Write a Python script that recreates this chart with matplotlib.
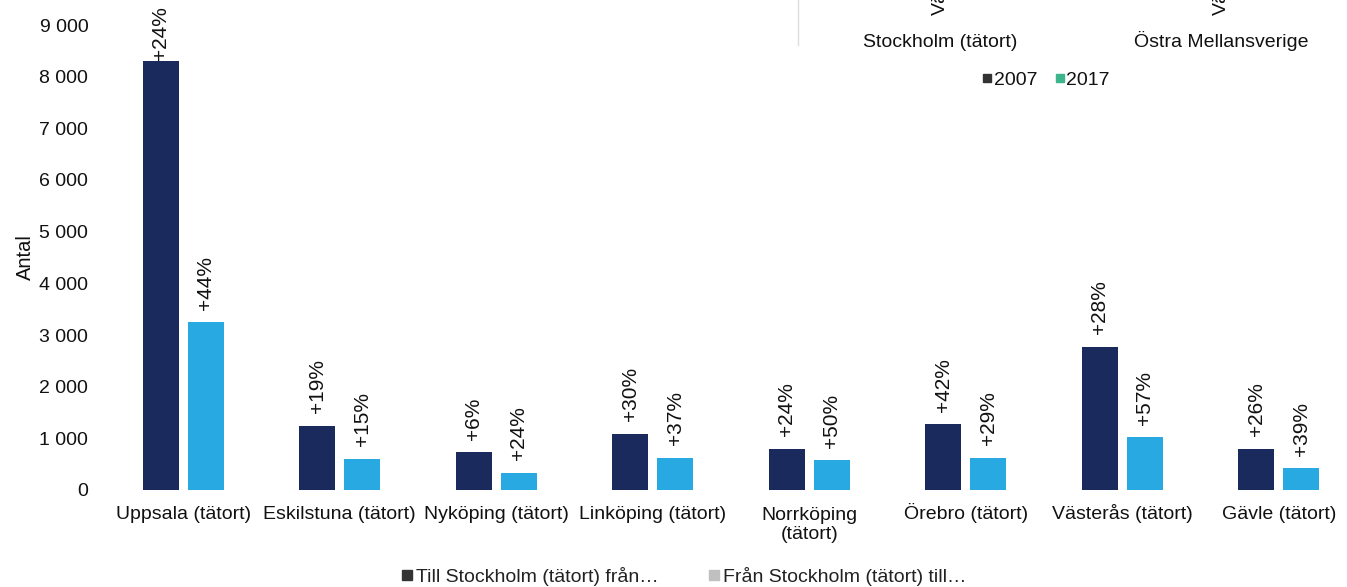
import numpy as np
import matplotlib.pyplot as plt
import matplotlib.transforms as mtransforms
from matplotlib.lines import Line2D

plt.rcParams['font.family'] = ['Liberation Sans', 'DejaVu Sans']

cities = ['Uppsala (tätort)', 'Eskilstuna (tätort)', 'Nyköping (tätort)', 'Linköping (tätort)',
          'Norrköping\n(tätort)', 'Örebro (tätort)', 'Västerås (tätort)', 'Gävle (tätort)']
till_sthlm = [8300, 1240, 735, 1085, 795, 1275, 2770, 795]
fran_sthlm = [3250, 600, 330, 620, 580, 620, 1025, 425]
till_change = ['+24%', '+19%', '+6%', '+30%', '+24%', '+42%', '+28%', '+26%']
fran_change = ['+44%', '+15%', '+24%', '+37%', '+50%', '+29%', '+57%', '+39%']
yticks = [0, 1000, 2000, 3000, 4000, 5000, 6000, 7000, 8000, 9000]

W, H = 1347, 587
dark = '#1b2a5c'
light = '#29a9e1'
txt = '#111111'

fig = plt.figure(figsize=(W / 100, H / 100), dpi=100)
ax = fig.add_axes([105 / W, 1 - 490 / H, 1 - 105 / W, (490 - 25) / H])

x = np.arange(len(cities))
bw = 0.23
gap = 0.03
b1 = ax.bar(x - bw / 2 - gap, till_sthlm, bw, color=dark)
b2 = ax.bar(x + bw / 2 + gap, fran_sthlm, bw, color=light)

for bars, labels in [(b1, till_change), (b2, fran_change)]:
    for rect, lab in zip(bars, labels):
        h = rect.get_height()
        # the tallest bar's label is squeezed against the top of the chart
        pad = 1 if h > 8000 else 9
        ax.annotate(lab, (rect.get_x() + rect.get_width() / 2, h), xytext=(0, pad),
                    textcoords='offset points', rotation=90, ha='center', va='bottom',
                    fontsize=15, color=txt, annotation_clip=False)

ax.set_xlim(-0.5, -0.5 + (W - 105) / 156.5)
ax.set_ylim(0, 9000)
ax.set_xticks(x)
ax.set_yticks(yticks)
ax.set_yticklabels([f'{v:,}'.replace(',', ' ') for v in yticks], fontsize=14, color=txt)
ax.tick_params(axis='x', length=0, pad=21)
ax.tick_params(axis='y', length=0, pad=12)
# baseline alignment so that Ö/ä don't push single labels down;
# two-line labels get moved down one line so their first line lines up
ax.set_xticklabels(cities, fontsize=14, color=txt, linespacing=1.2, va='baseline')
for lab in ax.get_xticklabels():
    n_extra = lab.get_text().count('\n')
    if n_extra:
        shift = mtransforms.ScaledTranslation(0, -0.20 * n_extra, fig.dpi_scale_trans)
        lab.set_transform(lab.get_transform() + shift)
ax.set_ylabel('Antal', fontsize=14.5, color=txt)
ax.yaxis.set_label_coords(-70 / (W - 105), 0.5)
for s in ax.spines.values():
    s.set_visible(False)

# bottom legend
handles = [Line2D([], [], marker='s', linestyle='none', color='#333333', markersize=6.5),
           Line2D([], [], marker='s', linestyle='none', color='#c0c0c0', markersize=6.5)]
fig.legend(handles, ['Till Stockholm (tätort) från…', 'Från Stockholm (tätort) till…'],
           loc='center', bbox_to_anchor=(684 / W, 1 - 576 / H), ncol=2, frameon=False,
           fontsize=14, handlelength=0.5, handletextpad=0.2, columnspacing=2.6,
           labelcolor='#222222', borderaxespad=0, borderpad=0)

# leftovers of a neighbouring chart in the top right corner
fig.add_artist(Line2D([798 / W, 798 / W], [1, 1 - 45 / H], color='#dddddd', lw=1))
for cx in [940, 1221]:
    fig.text(cx / W, 1 - 15 / H, 'Vä', rotation=90, ha='center', va='bottom',
             fontsize=14, color=txt)
fig.text(940 / W, 1 - 47 / H, 'Stockholm (tätort)', ha='center', va='baseline',
         fontsize=14, color=txt)
fig.text(1221 / W, 1 - 47 / H, 'Östra Mellansverige', ha='center', va='baseline',
         fontsize=14, color=txt)
ghost = [Line2D([], [], marker='s', linestyle='none', color='#333333', markersize=6),
         Line2D([], [], marker='s', linestyle='none', color='#3db58c', markersize=6)]
fig.legend(ghost, ['2007', '2017'], loc='center', bbox_to_anchor=(1046 / W, 1 - 80 / H),
           ncol=2, frameon=False, fontsize=14, handlelength=0.5, handletextpad=0.1,
           columnspacing=0.9, labelcolor=txt, borderaxespad=0, borderpad=0)

fig.savefig('out.png', dpi=100)
